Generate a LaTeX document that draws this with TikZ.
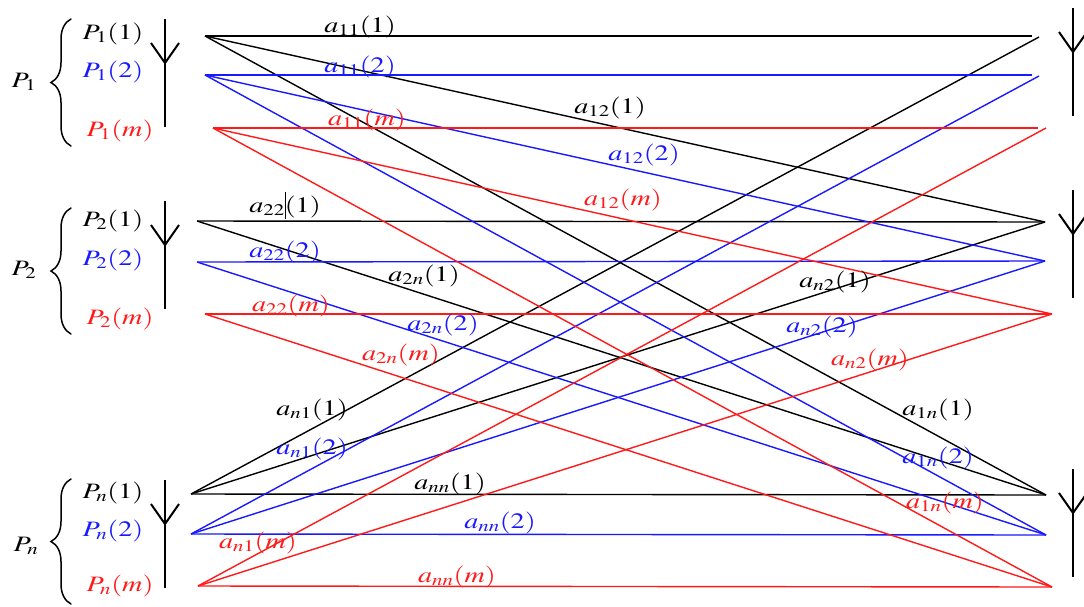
\documentclass[tikz,border=0pt]{standalone}
\usepackage{mathptmx}
\usetikzlibrary{decorations.pathreplacing}
\begin{document}
\definecolor{cb}{RGB}{25,25,255}
\definecolor{cr}{RGB}{255,25,25}
\begin{tikzpicture}[x=1pt,y=-1pt,
  lnk/.style={line width=1.4pt},
  blk/.style={lnk,black}, blu/.style={lnk,cb}, rd/.style={lnk,cr},
  lab/.style={font=\fontsize{22}{24}\selectfont, inner sep=0pt, xscale=1.28},
  ant/.style={line width=2pt},
  grpbrace/.style={decorate, decoration={brace, amplitude=20pt}, line width=1.5pt, line cap=round},
  antenna/.pic={\draw[ant] (0,0) -- (0,108); \draw[ant] (-14,24) -- (0,44) -- (14,24);}
]
\useasboundingbox (0,0) rectangle (1084,606);
% left end points
\coordinate (l11) at (205,36);  \coordinate (l12) at (205,75);  \coordinate (l1m) at (213,128);
\coordinate (l21) at (197,221); \coordinate (l22) at (197,262); \coordinate (l2m) at (205,314);
\coordinate (ln1) at (191,494); \coordinate (ln2) at (191,534); \coordinate (lnm) at (198,586);
% right end points
\coordinate (r11) at (1039,37); \coordinate (r11h) at (1032,36);
\coordinate (r12) at (1039,76); \coordinate (r12h) at (1032,75);
\coordinate (r1m) at (1046,128); \coordinate (r1mh) at (1038,128);
\coordinate (r21) at (1045,222); \coordinate (r22) at (1045,261); \coordinate (r2m) at (1052,314);
\coordinate (rn1) at (1046,495); \coordinate (rn2) at (1046,535); \coordinate (rnm) at (1052,587);
% links
\draw[blk] (l11) -- (r11h); \draw[blk] (l11) -- (r21); \draw[blk] (l11) -- (rn1);
\draw[blk] (l21) -- (r21); \draw[blk] (l21) -- (rn1);
\draw[blk] (ln1) -- (r11); \draw[blk] (ln1) -- (r21); \draw[blk] (ln1) -- (rn1);
\draw[blu] (l12) -- (r12h); \draw[blu] (l12) -- (r22); \draw[blu] (l12) -- (rn2);
\draw[blu] (l22) -- (r22); \draw[blu] (l22) -- (rn2);
\draw[blu] (ln2) -- (r12); \draw[blu] (ln2) -- (r22); \draw[blu] (ln2) -- (rn2);
\draw[rd] (l1m) -- (r1mh); \draw[rd] (l1m) -- (r2m); \draw[rd] (l1m) -- (rnm);
\draw[rd] (l2m) -- (r2m); \draw[rd] (l2m) -- (rnm);
\draw[rd] (lnm) -- (r1m); \draw[rd] (lnm) -- (r2m); \draw[rd] (lnm) -- (rnm);
% antennas
\pic at (165,19) {antenna}; \pic at (165,201) {antenna}; \pic at (165,480) {antenna};
\pic at (1073,8) {antenna}; \pic at (1073,190) {antenna}; \pic at (1073,469) {antenna};
% group braces
\coordinate (b1t) at (71,19);  \coordinate (b1b) at (71,146);
\coordinate (b2t) at (71,208); \coordinate (b2b) at (71,334);
\coordinate (bnt) at (71,479); \coordinate (bnb) at (71,604);
\draw[grpbrace] (b1b) -- (b1t);
\draw[grpbrace] (b2b) -- (b2t);
\draw[grpbrace] (bnb) -- (bnt);
% groups
\node[lab] (g1) at (24,82) {$P_1$};
\node[lab] (g2) at (24,270) {$P_2$};
\node[lab] (gn) at (26,546) {$P_n$};
\node[lab] (p11) at (113,34) {$P_1(1)$};
\node[lab,text=cb] (p12) at (113,72) {$P_1(2)$};
\node[lab,text=cr] (p1m) at (120,131) {$P_1(m)$};
\node[lab] (p21) at (113,221) {$P_2(1)$};
\node[lab,text=cb] (p22) at (113,260) {$P_2(2)$};
\node[lab,text=cr] (p2m) at (120,319) {$P_2(m)$};
\node[lab] (pn1) at (113,493) {$P_n(1)$};
\node[lab,text=cb] (pn2) at (113,531) {$P_n(2)$};
\node[lab,text=cr] (pnm) at (120,586) {$P_n(m)$};
% link labels
\node[lab] (a111) at (360,27) {$a_{11}(1)$};
\node[lab,text=cb] (a112) at (360,67) {$a_{11}(2)$};
\node[lab,text=cr] (a11m) at (367,120) {$a_{11}(m)$};
\node[lab] (a121) at (610,108) {$a_{12}(1)$};
\node[lab,text=cb] (a122) at (644,155) {$a_{12}(2)$};
\node[lab,text=cr] (a12m) at (623,200) {$a_{12}(m)$};
\node[lab] (a221) at (285,207) {$a_{22}(1)$};
\draw[line width=0.8pt] (285,192) -- (285,219);
\node[lab,text=cb] (a222) at (285,252) {$a_{22}(2)$};
\node[lab,text=cr] (a22m) at (291,306) {$a_{22}(m)$};
\node[lab] (a2n1) at (424,276) {$a_{2n}(1)$};
\node[lab,text=cb] (a2n2) at (443,325) {$a_{2n}(2)$};
\node[lab,text=cr] (a2nm) at (401,355) {$a_{2n}(m)$};
\node[lab] (an21) at (835,282) {$a_{n2}(1)$};
\node[lab,text=cb] (an22) at (822,327) {$a_{n2}(2)$};
\node[lab,text=cr] (an2m) at (870,360) {$a_{n2}(m)$};
\node[lab] (an11) at (312,410) {$a_{n1}(1)$};
\node[lab,text=cb] (an12) at (312,449) {$a_{n1}(2)$};
\node[lab,text=cr] (an1m) at (258,543) {$a_{n1}(m)$};
\node[lab] (ann1) at (450,484) {$a_{nn}(1)$};
\node[lab,text=cb] (ann2) at (500,523) {$a_{nn}(2)$};
\node[lab,text=cr] (annm) at (457,577) {$a_{nn}(m)$};
\node[lab] (a1n1) at (938,410) {$a_{1n}(1)$};
\node[lab,text=cb] (a1n2) at (938,458) {$a_{1n}(2)$};
\node[lab,text=cr] (a1nm) at (945,503) {$a_{1n}(m)$};
\end{tikzpicture}
\end{document}
